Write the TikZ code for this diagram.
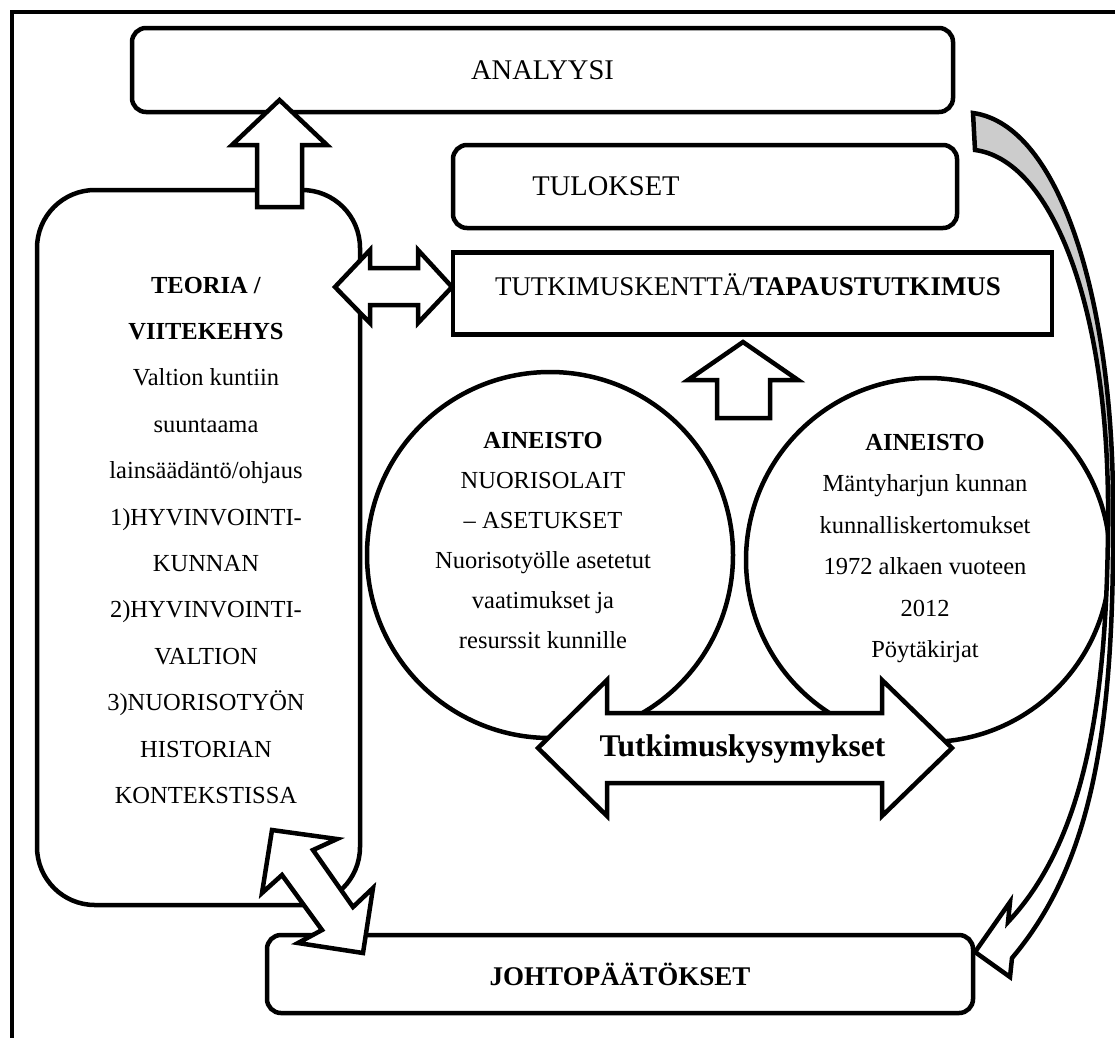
\documentclass[tikz,border=0pt]{standalone}
\usepackage{fontspec}
\setmainfont{Liberation Serif}
\newcommand\fsz[2]{\fontsize{#1pt}{#2pt}\selectfont}
\begin{document}
\begin{tikzpicture}[x=1pt,y=-1pt,line width=4.5pt,
  rbox/.style={draw,line width=4.5pt,rounded corners=14pt,inner sep=0pt},
  sbox/.style={draw,line width=4.5pt,inner sep=0pt},
  bigbox/.style={draw,line width=4.5pt,rounded corners=58pt,inner sep=0pt},
  ring/.style={draw,circle,line width=4.5pt,inner sep=0pt},
  barrow/.style={draw,fill=white,line width=4.5pt,line join=miter},
  lbl/.style={inner sep=0pt,align=center}]
\useasboundingbox (0,0) rectangle (1115,1037);
\begin{scope}
  \clip (0,0) rectangle (1115,1037);
  \draw[line width=4.5pt] (12,1080) rectangle (1140,12);
\end{scope}

% boxes
\node[rbox,minimum width=821pt,minimum height=84pt,font=\fsz{28.5}{34}] (ana) at (542.5,70) {ANALYYSI};
\node[rbox,minimum width=504pt,minimum height=83pt] (tul) at (705,186.5) {};
\node[lbl,font=\fsz{28.5}{34}] (tultxt) at (606,186) {TULOKSET};
\node[sbox,minimum width=599pt,minimum height=82pt] (tut) at (752.5,293.5) {};
\node[lbl,font=\fsz{27}{32},anchor=base] (tuttxt) at (748,295) {TUTKIMUSKENTTÄ/\textbf{TAPAUSTUTKIMUS}};
\node[bigbox,minimum width=323pt,minimum height=715pt] (teo) at (198.5,547.5) {};
\node[lbl,font=\fsz{24.5}{46.4},anchor=base] (teotxt) at (206,803.4) {\textbf{TEORIA /}\\\textbf{VIITEKEHYS}\\Valtion kuntiin\\suuntaama\\lainsäädäntö/ohjaus\\1)HYVINVOINTI-\\KUNNAN\\2)HYVINVOINTI-\\VALTION\\3)NUORISOTYÖN\\HISTORIAN\\KONTEKSTISSA};
\node[rbox,minimum width=706pt,minimum height=78pt,font=\fsz{27}{32}\bfseries] (joh) at (620,974) {JOHTOPÄÄTÖKSET};

% circles
\node[ring,minimum size=366pt] (c1) at (550,555) {};
\node[ring,minimum size=364pt] (c2) at (928,560) {};
\node[lbl,font=\fsz{24.5}{40},anchor=base] (c1txt) at (543,648) {\textbf{AINEISTO}\\NUORISOLAIT\\– ASETUKSET\\Nuorisotyölle asetetut\\vaatimukset ja\\resurssit kunnille};
\node[lbl,font=\fsz{24.5}{41.5},anchor=base] (c2txt) at (925,657.5) {\textbf{AINEISTO}\\Mäntyharjun kunnan\\kunnalliskertomukset\\1972 alkaen vuoteen\\2012\\Pöytäkirjat};

% curved arrow on the right
\path[fill=white] (975,150) -- (973,113)
  .. controls (1060,125) and (1112,300) .. (1113,500)
  .. controls (1115,720) and (1095,860) .. (1012,958)
  -- (1010,977) -- (975,952) -- (1010,902) -- (1008,922)
  .. controls (1085,840) and (1109,700) .. (1108,500)
  .. controls (1106,300) and (1050,160) .. (975,150) -- cycle;
\begin{scope}
  \clip (900,0) rectangle (1115,460);
  \path[fill=black!20] (975,150) -- (973,113)
    .. controls (1060,125) and (1112,300) .. (1113,500)
    -- (1108,500)
    .. controls (1106,300) and (1050,160) .. (975,150) -- cycle;
\end{scope}
\draw[line join=miter] (975,150) -- (973,113)
  .. controls (1060,125) and (1112,300) .. (1113,500)
  .. controls (1115,720) and (1095,860) .. (1012,958)
  -- (1010,977) -- (975,952) -- (1010,902) -- (1008,922)
  .. controls (1085,840) and (1109,700) .. (1108,500)
  .. controls (1106,300) and (1050,160) .. (975,150) -- cycle;

% block arrows
\draw[barrow] (279.5,100) -- (327,145) -- (302,145) -- (302,207) -- (257,207) -- (257,145) -- (232,145) -- cycle;
\draw[barrow] (335,287) -- (370,250) -- (370,268) -- (418,268) -- (418,250) -- (452,287) -- (418,323) -- (418,305) -- (370,305) -- (370,323) -- cycle;
\draw[barrow] (743,342) -- (798,380) -- (770,380) -- (770,418) -- (717,418) -- (717,380) -- (688,380) -- cycle;
\draw[barrow] (538,748) -- (607,680) -- (607,713) -- (882,713) -- (882,680) -- (952,748) -- (882,816) -- (882,783) -- (607,783) -- (607,816) -- cycle;
\node[lbl,font=\fsz{31.5}{36}\bfseries,anchor=base] (tk) at (742.5,756) {Tutkimuskysymykset};
\draw[barrow] (272,830) -- (337,839) -- (313,850) -- (353,907) -- (373,888) -- (363,953) -- (298,943) -- (322,930) -- (282,875) -- (262,893) -- cycle;
\end{tikzpicture}
\end{document}
